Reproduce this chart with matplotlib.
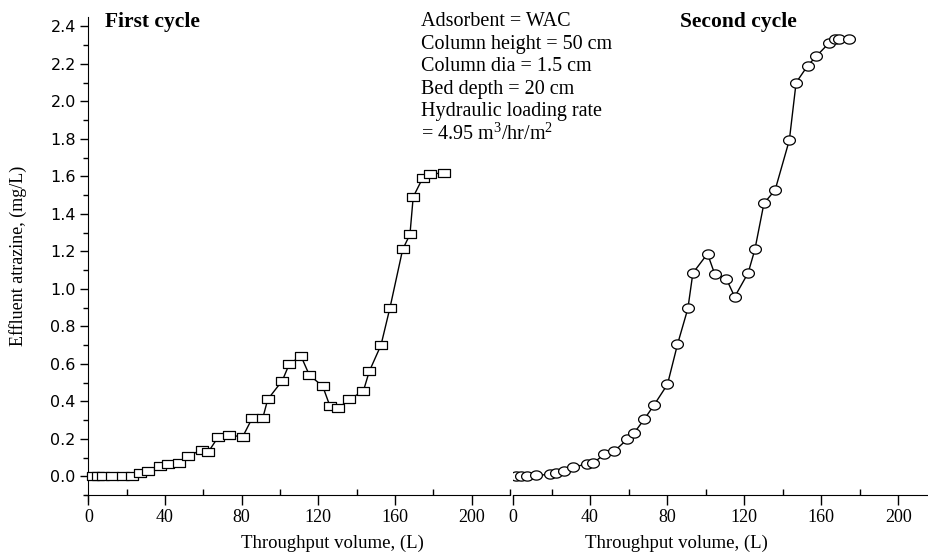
"""
Atrazine breakthrough curves on WAC column - first and second cycle
"""

import matplotlib.pyplot as plt
import numpy as np
from matplotlib.path import Path
from matplotlib.ticker import MultipleLocator, FormatStrFormatter

plt.rcParams['font.family'] = 'Liberation Serif'
plt.rcParams['mathtext.fontset'] = 'custom'
plt.rcParams['mathtext.rm'] = 'Liberation Serif'

# first cycle (squares)
vol_1 = [2.5, 5, 7.7, 12.4, 18, 22.8, 27, 31.3, 37.4, 41.7, 47.3, 52.2, 59.2, 62.6,
         67.8, 73.4, 80.5, 85.5, 91, 93.6, 101.2, 104.9, 111, 115.3, 122.3, 126.1,
         130.4, 136.2, 143.5, 146.6, 152.7, 157.4, 164, 167.8, 169.5, 174.4, 178.2, 185.6]
atz_1 = [0, 0, 0, 0, 0, 0, 0.016, 0.03, 0.055, 0.064, 0.073, 0.107, 0.142, 0.13,
         0.21, 0.22, 0.21, 0.31, 0.31, 0.41, 0.51, 0.60, 0.64, 0.54, 0.48, 0.373,
         0.363, 0.41, 0.455, 0.56, 0.70, 0.90, 1.21, 1.29, 1.49, 1.59, 1.61, 1.62]

# second cycle (circles)
vol_2 = [1.7, 4.3, 7.5, 12.2, 19.2, 22.1, 26.6, 31.3, 38.2, 41.7, 47.3, 52.5, 59.4, 63,
         68.1, 73.3, 80.2, 85.4, 90.8, 93.4, 101, 104.7, 110.8, 115.1, 122.1, 125.6,
         130.3, 136.1, 143.5, 147, 153, 157.4, 164, 167.4, 169.5, 174.7]
atz_2 = [0, 0, 0, 0.005, 0.01, 0.02, 0.03, 0.05, 0.064, 0.07, 0.117, 0.133, 0.198, 0.233,
         0.303, 0.381, 0.49, 0.703, 0.895, 1.084, 1.187, 1.08, 1.053, 0.957, 1.085, 1.21,
         1.456, 1.527, 1.794, 2.10, 2.19, 2.24, 2.31, 2.33, 2.33, 2.33]

info_lines = ['Adsorbent = WAC', 'Column height = 50 cm', 'Column dia = 1.5 cm',
              'Bed depth = 20 cm', 'Hydraulic loading rate',
              '= 4.95 m$^{3}$/hr/m$^{2}$']

# flattened markers like the scanned figure
rect = Path([(-1, -0.72), (1, -0.72), (1, 0.72), (-1, 0.72), (-1, -0.72)], closed=True)
t = np.linspace(0, 2 * np.pi, 40)
ell = Path(np.column_stack([np.cos(t), 0.78 * np.sin(t)]), closed=True)

W, H = 929, 552
fig = plt.figure(figsize=(W / 100, H / 100), dpi=100)

ax1 = fig.add_axes([84.5 / W, 1 - 495 / H, 425.5 / W, 478 / H])
ax2 = fig.add_axes([513 / W, 1 - 495 / H, 416 / W, 478 / H])

ax1.plot(vol_1, atz_1, color='black', lw=1.0, zorder=2)
ax1.plot(vol_1, atz_1, linestyle='none', marker=rect, ms=8, mfc='white',
         mec='black', mew=0.9, zorder=3)
ax2.plot(vol_2, atz_2, color='black', lw=1.0, zorder=2)
ax2.plot(vol_2, atz_2, linestyle='none', marker=ell, ms=8.5, mfc='white',
         mec='black', mew=0.9, zorder=3)

for ax in (ax1, ax2):
    ax.set_ylim(-0.1, 2.45)
    ax.spines['top'].set_visible(False)
    ax.spines['right'].set_visible(False)
    ax.xaxis.set_major_locator(MultipleLocator(40))
    ax.xaxis.set_minor_locator(MultipleLocator(20))
    ax.tick_params(axis='x', which='major', direction='out', length=7, width=1,
                   labelsize=13, pad=3)
    ax.tick_params(axis='x', which='minor', direction='in', length=4, width=1)
    ax.set_xlabel('Throughput volume, (L)', fontsize=13.5)
    ax.patch.set_alpha(0)

ax1.set_xlim(-2, 220)
ax1.spines['left'].set_position(('data', 0))
ax1.spines['left'].set_bounds(-0.13, 2.45)
ax1.yaxis.set_major_locator(MultipleLocator(0.2))
ax1.yaxis.set_minor_locator(MultipleLocator(0.1))
ax1.yaxis.set_major_formatter(FormatStrFormatter('%.1f'))
ax1.tick_params(axis='y', which='major', direction='out', length=6, width=1, pad=3)
ax1.tick_params(axis='y', which='minor', direction='out', length=3.5, width=1)
for lab in ax1.get_yticklabels():
    lab.set_family('DejaVu Sans')
    lab.set_fontsize(11.5)
ax1.set_ylabel('Effluent atrazine, (mg/L)', fontsize=13)
ax1.yaxis.set_label_coords(-0.135, 0.5)
ax1.xaxis.set_label_coords(0.582, -0.082)

ax2.set_xlim(0, 216)
ax2.spines['left'].set_visible(False)
ax2.tick_params(axis='y', left=False, labelleft=False)
ax2.xaxis.set_label_coords(0.394, -0.082)

fig.text(105 / W, 1 - 22 / H, 'First cycle', fontsize=15.5, fontweight='bold',
         ha='left', va='center')
fig.text(680 / W, 1 - 22 / H, 'Second cycle', fontsize=15.5, fontweight='bold',
         ha='left', va='center')
for i, line in enumerate(info_lines):
    fig.text(421 / W, 1 - (22 + 22.4 * i) / H, line, fontsize=14.5,
             ha='left', va='center')

fig.savefig('out.png', dpi=100)
